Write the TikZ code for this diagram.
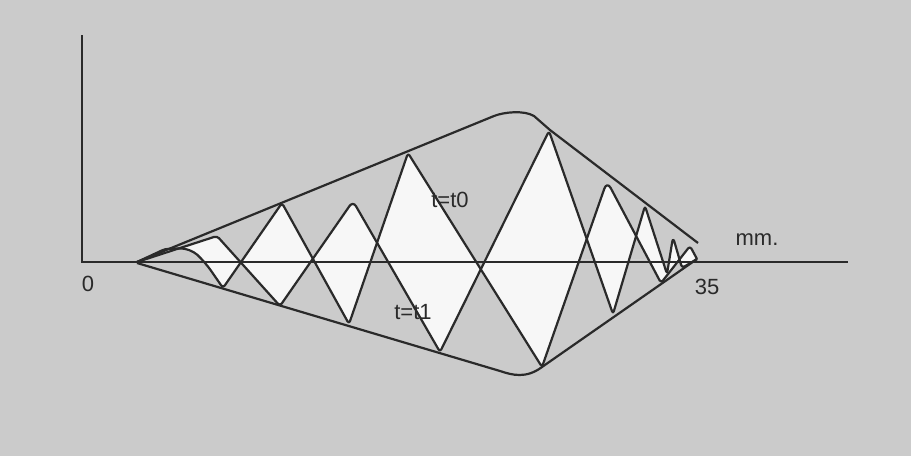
\documentclass[tikz,border=0pt]{standalone}
\usepackage{fontspec}
\setmainfont{Liberation Sans}
\definecolor{bg}{HTML}{CBCBCB}
\definecolor{ink}{HTML}{2A2A2A}
\definecolor{paper}{HTML}{F7F7F7}
\begin{document}
\begin{tikzpicture}[x=0.5pt,y=-0.5pt,
  curve/.style={draw=ink, line width=1.1pt, line join=round, rounded corners=1.5pt},
  axisline/.style={draw=ink, line width=1pt},
  lbl/.style={text=ink, font=\fontsize{11}{13}\selectfont, inner sep=0pt}]
% background
\fill[bg] (0,0) rectangle (911,456);
\useasboundingbox (0,0) rectangle (911,456);
% white area between the two instants
\path[fill=paper, even odd rule, line join=round, rounded corners=1.5pt]
  (137,262) -- (165,249) [rounded corners=5pt] -- (190,248) -- (205,262) [rounded corners=1.5pt] -- (223,288) -- (282,203) -- (349,324) -- (408,153) -- (542,367) [rounded corners=4pt] -- (607,181) [rounded corners=1.5pt] -- (661,283) -- (690,246) -- (697,259) -- cycle
  (137,262) -- (217,236) -- (280,306) [rounded corners=3pt] -- (353,201) [rounded corners=1.5pt] -- (440,352) -- (549,131) -- (613,314) -- (645,206) -- (667,274) [rounded corners=2.5pt] -- (673,237) [rounded corners=1.5pt] -- (682,268) -- (697,259) -- cycle;
% axes
\coordinate (O) at (82,262);
\coordinate (ytop) at (82,35);
\coordinate (xend) at (848,262);
\draw[axisline] (ytop) -- (O) -- (xend);
% envelopes
\draw[curve, rounded corners=0pt] (137,262) -- (494,116) .. controls (504,112) and (524,110) .. (534,116) -- (550,130) -- (698,243);
\draw[curve, rounded corners=0pt] (137,263) -- (500,371) .. controls (512,375) and (526,379) .. (542,367) -- (697,259);
% curve t = t0 / t = t1
\draw[curve] (137,262) -- (165,249) [rounded corners=5pt] -- (190,248) -- (205,262) [rounded corners=1.5pt] -- (223,288) -- (282,203) -- (349,324) -- (408,153) -- (542,367) [rounded corners=4pt] -- (607,181) [rounded corners=1.5pt] -- (661,283) -- (690,246) -- (697,259);
\draw[curve] (137,262) -- (217,236) -- (280,306) [rounded corners=3pt] -- (353,201) [rounded corners=1.5pt] -- (440,352) -- (549,131) -- (613,314) -- (645,206) -- (667,274) [rounded corners=2.5pt] -- (673,237) [rounded corners=1.5pt] -- (682,268) -- (697,259);
% labels
\node[lbl] (l0) at (88,284) {0};
\node[lbl] (l35) at (707,287) {35};
\node[lbl] (mm) at (757,240) {mm.};
\node[lbl] (t0) at (450,200) {t=t0};
\node[lbl] (t1) at (413,312) {t=t1};
\end{tikzpicture}
\end{document}
